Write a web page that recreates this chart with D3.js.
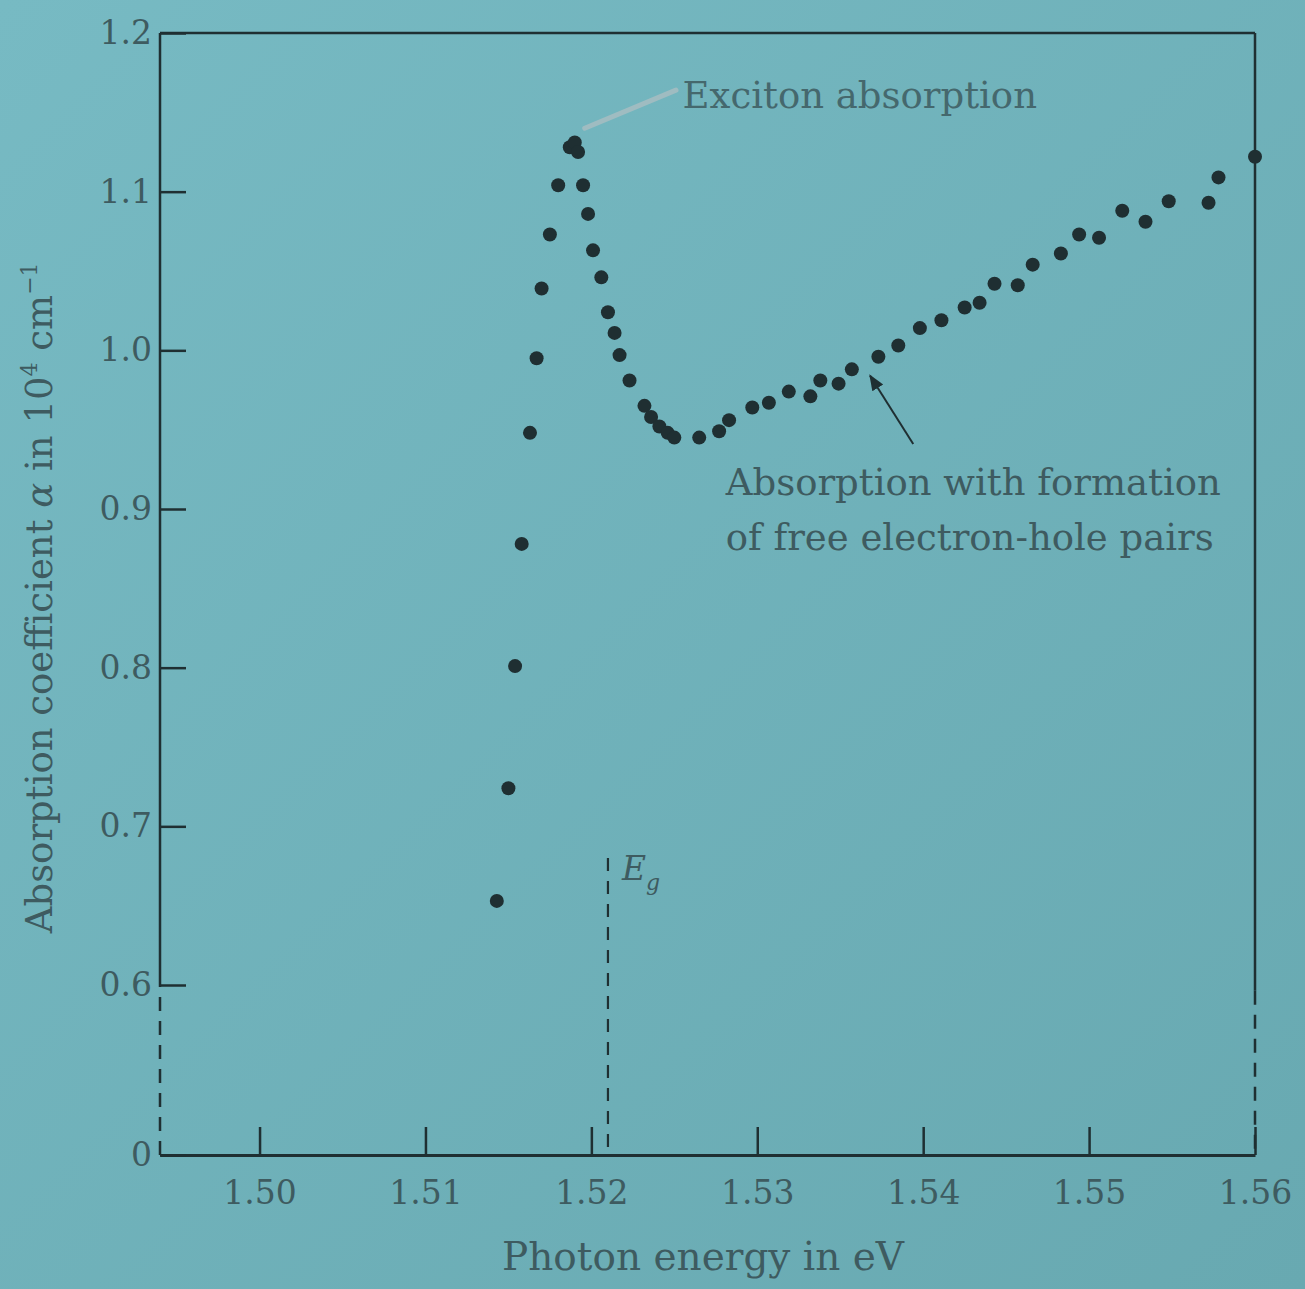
<!DOCTYPE html>
<html lang="en">
<head>
<meta charset="UTF-8">
<title>Exciton absorption</title>
<style>
  body { margin: 0; background: #73b5be; }
  svg text { font-family: "DejaVu Serif", serif; }
</style>
</head>
<body>
<div id="chart"></div>
<script src="https://d3js.org/d3.v7.min.js"></script>
<script>
// photon energy (eV) and absorption coefficient (10^4 cm^-1)
const energy = [
  1.5143, 1.5150, 1.5154, 1.5158, 1.5163, 1.5167, 1.5170, 1.5175, 1.5180,
  1.5187, 1.5190, 1.5192,
  1.5195, 1.5198, 1.5201, 1.5206, 1.5210, 1.5214, 1.5217, 1.5223, 1.5232,
  1.5236, 1.5241, 1.5246, 1.5250, 1.5265, 1.5277, 1.5283, 1.5297, 1.5307,
  1.5319, 1.5332, 1.5338, 1.5349, 1.5357, 1.5373, 1.5385, 1.5398, 1.5411,
  1.5425, 1.5434, 1.5443, 1.5457, 1.5466, 1.5483, 1.5494, 1.5506, 1.5520,
  1.5534, 1.5548, 1.5572, 1.5578, 1.5600
];
const alpha = [
  0.653, 0.724, 0.801, 0.878, 0.948, 0.995, 1.039, 1.073, 1.104,
  1.128, 1.131, 1.125,
  1.104, 1.086, 1.063, 1.046, 1.024, 1.011, 0.997, 0.981, 0.965,
  0.958, 0.952, 0.948, 0.945, 0.945, 0.949, 0.956, 0.964, 0.967,
  0.974, 0.971, 0.981, 0.979, 0.988, 0.996, 1.003, 1.014, 1.019,
  1.027, 1.030, 1.042, 1.041, 1.054, 1.061, 1.073, 1.071, 1.088,
  1.081, 1.094, 1.093, 1.109, 1.122
];
const xTicks = [1.50, 1.51, 1.52, 1.53, 1.54, 1.55, 1.56];
const yTicks = [0, 0.6, 0.7, 0.8, 0.9, 1.0, 1.1, 1.2];
const gapEnergy = 1.521;

const W = 1305, H = 1289;
const ink = "#1f2f32", faded = "#3e5b60";

const svg = d3.select("#chart").append("svg")
  .attr("width", W).attr("height", H);

const bg = svg.append("defs").append("linearGradient")
  .attr("id", "paper").attr("x1", 0).attr("y1", 0).attr("x2", 1).attr("y2", 1);
bg.append("stop").attr("offset", 0).attr("stop-color", "#77bac3");
bg.append("stop").attr("offset", 1).attr("stop-color", "#68a9b1");
svg.append("rect").attr("width", W).attr("height", H).attr("fill", "url(#paper)");

const x = d3.scaleLinear().domain([1.494, 1.56]).range([160, 1255]);
// broken axis: 0 sits below a gap, 0.6..1.2 is the real range
const y = d3.scaleLinear().domain([0, 0.6, 1.2]).range([1155, 985, 33]);

// frame
svg.append("line")
  .attr("x1", x(1.494)).attr("x2", x(1.494)).attr("y1", y(0.6)).attr("y2", y(1.2))
  .attr("stroke", ink).attr("stroke-width", 2.5);
svg.append("line")
  .attr("x1", x(1.494)).attr("x2", x(1.494)).attr("y1", y(0)).attr("y2", y(0.6))
  .attr("stroke", ink).attr("stroke-width", 2.5).attr("stroke-dasharray", "14,10");
svg.append("line")
  .attr("x1", x(1.494)).attr("x2", x(1.56)).attr("y1", y(1.2)).attr("y2", y(1.2))
  .attr("stroke", ink).attr("stroke-width", 2.5);
svg.append("line")
  .attr("x1", x(1.56)).attr("x2", x(1.56)).attr("y1", y(1.2)).attr("y2", y(0.58))
  .attr("stroke", ink).attr("stroke-width", 2.5);
svg.append("line")
  .attr("x1", x(1.56)).attr("x2", x(1.56)).attr("y1", y(0.58)).attr("y2", y(0))
  .attr("stroke", ink).attr("stroke-width", 2.5).attr("stroke-dasharray", "14,10");

// axes
const xAxis = d3.axisBottom(x).tickValues(xTicks)
  .tickFormat(d3.format(".2f")).tickSizeInner(-28).tickSizeOuter(0).tickPadding(26);
svg.append("g").attr("transform", `translate(0,${y(0)})`).call(xAxis)
  .call(g => g.select(".domain").attr("stroke", ink).attr("stroke-width", 3))
  .call(g => g.selectAll(".tick line").attr("stroke", ink).attr("stroke-width", 2.5))
  .call(g => g.selectAll(".tick text").attr("fill", faded).attr("font-size", 33)
    .attr("font-family", "DejaVu Serif"));

const yAxis = d3.axisLeft(y).tickValues(yTicks)
  .tickFormat(d => d === 0 ? "0" : d3.format(".1f")(d)).tickSizeInner(-26).tickPadding(8);
svg.append("g").attr("transform", `translate(${x(1.494)},0)`).call(yAxis)
  .call(g => g.select(".domain").remove())
  .call(g => g.selectAll(".tick line").attr("stroke", ink).attr("stroke-width", 2.5))
  .call(g => g.selectAll(".tick text").attr("fill", faded).attr("font-size", 33)
    .attr("font-family", "DejaVu Serif"));

// band gap marker
svg.append("line")
  .attr("x1", x(gapEnergy)).attr("x2", x(gapEnergy))
  .attr("y1", y(0.68)).attr("y2", y(0))
  .attr("stroke", ink).attr("stroke-width", 2.2).attr("stroke-dasharray", "13,10");
const eg = svg.append("text")
  .attr("x", x(gapEnergy) + 14).attr("y", y(0.666))
  .attr("fill", faded).attr("font-size", 33).attr("font-style", "italic");
eg.append("tspan").text("E");
eg.append("tspan").attr("font-size", 22).attr("dy", 10).text("g");

// data points
svg.append("g").selectAll("circle")
  .data(energy.map((e, i) => [e, alpha[i]]))
  .join("circle")
  .attr("cx", d => x(d[0]))
  .attr("cy", d => y(d[1]))
  .attr("r", 7)
  .attr("fill", ink);

// annotations
svg.append("line")
  .attr("x1", x(1.5196)).attr("y1", y(1.14))
  .attr("x2", x(1.5251)).attr("y2", y(1.164))
  .attr("stroke", "#9fbcc1").attr("stroke-width", 5).attr("stroke-linecap", "round");
svg.append("text")
  .attr("x", x(1.5255)).attr("y", y(1.153))
  .attr("fill", faded).attr("font-size", 37).attr("opacity", 0.85)
  .text("Exciton absorption");

svg.append("defs").append("marker")
  .attr("id", "head").attr("viewBox", "0 0 10 10").attr("refX", 9).attr("refY", 5)
  .attr("markerWidth", 8).attr("markerHeight", 8).attr("orient", "auto")
  .append("path").attr("d", "M0,1 L10,5 L0,9 Z").attr("fill", ink);
svg.append("line")
  .attr("x1", x(1.5394)).attr("y1", y(0.941))
  .attr("x2", x(1.5368)).attr("y2", y(0.984))
  .attr("stroke", ink).attr("stroke-width", 2).attr("marker-end", "url(#head)");

svg.append("text")
  .attr("x", x(1.5281)).attr("y", y(0.909))
  .attr("fill", faded).attr("font-size", 37)
  .text("Absorption with formation");
svg.append("text")
  .attr("x", x(1.5281)).attr("y", y(0.874))
  .attr("fill", faded).attr("font-size", 37)
  .text("of free electron-hole pairs");

// axis titles
svg.append("text")
  .attr("x", 703).attr("y", 1270)
  .attr("text-anchor", "middle").attr("fill", faded).attr("font-size", 39)
  .text("Photon energy in eV");

const yt = svg.append("text")
  .attr("transform", `translate(52,${y(0.844)}) rotate(-90)`)
  .attr("text-anchor", "middle").attr("fill", faded).attr("font-size", 37);
yt.append("tspan").text("Absorption coefficient ");
yt.append("tspan").attr("font-style", "italic").text("α");
yt.append("tspan").text(" in 10");
yt.append("tspan").attr("font-size", 22).attr("dy", -15).text("4");
yt.append("tspan").attr("dy", 15).text(" cm");
yt.append("tspan").attr("font-size", 22).attr("dy", -15).text("−1");
</script>
</body>
</html>
